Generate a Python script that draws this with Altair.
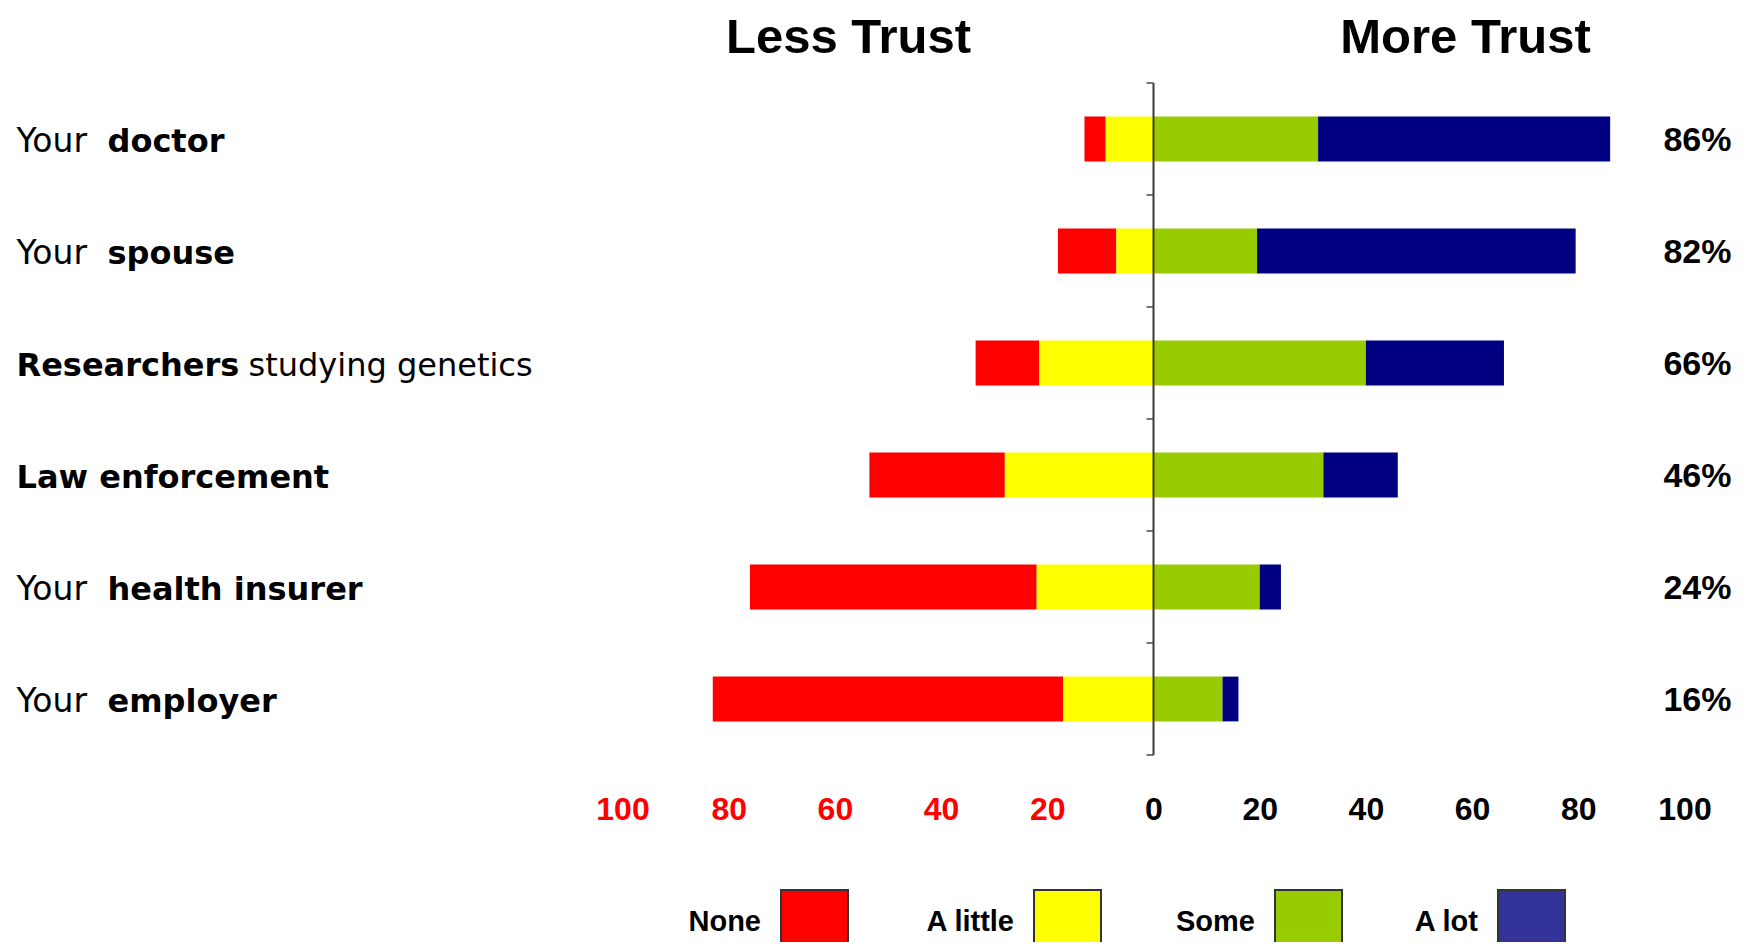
import altair as alt
import pandas as pd

# ---------------- data ----------------
categories = ["Your doctor", "Your spouse", "Researchers studying genetics",
              "Law enforcement", "Your health insurer", "Your employer"]
label_before = ["Your", "Your", "", "", "Your", "Your"]
label_bold = ["doctor", "spouse", "Researchers", "Law enforcement", "health insurer", "employer"]
label_after = ["", "", "studying genetics", "", "", ""]
none_vals = [4, 11, 12, 25.5, 54, 66]
little_vals = [9, 7, 21.5, 28, 22, 17]
some_vals = [31, 19.5, 40, 32, 20, 13]
alot_vals = [55, 60, 26, 14, 4, 3]
more_trust_pct = ["86%", "82%", "66%", "46%", "24%", "16%"]
levels = ["None", "A little", "Some", "A lot"]
bar_colors = ["#FF0000", "#FFFF00", "#99CC00", "#000080"]
legend_colors = ["#FF0000", "#FFFF00", "#99CC00", "#333399"]
x_ticks = [-100, -80, -60, -40, -20, 0, 20, 40, 60, 80, 100]
titles = ["Less Trust", "More Trust"]

# ---------------- tables ----------------
rows = []
for i, cat in enumerate(categories):
    n, l, s, a = none_vals[i], little_vals[i], some_vals[i], alot_vals[i]
    segs = [(-(n + l), -l), (-l, 0), (0, s), (s, s + a)]
    for lev, (x0, x1) in zip(levels, segs):
        rows.append({"category": cat, "level": lev, "x0": x0, "x1": x1,
                     "y0": i + 0.3, "y1": i + 0.7})
bars_df = pd.DataFrame(rows)

labels_df = pd.DataFrame({
    "category": categories,
    "before": label_before,
    "bold": label_bold,
    "after": label_after,
    "pct": more_trust_pct,
    "yc": [i + 0.5 for i in range(len(categories))],
})
bounds_df = pd.DataFrame({"b": list(range(len(categories) + 1))})
zero_df = pd.DataFrame({"v": [0]})

# ---------------- layout constants ----------------
W, H = 1062, 672
PAD = {"left": 614.5, "top": 75, "right": 47.5, "bottom": 187}
LEFT_X = -606
BOLD_AFTER_YOUR = 91
AFTER_BOLD = 232
LABEL_FONT = "DejaVu Sans"
MAIN_FONT = "Liberation Sans"

yscale = alt.Scale(domain=[0, len(categories)], reverse=True, nice=False, zero=False)
xscale = alt.Scale(domain=[-100, 100], nice=False, zero=False)

base = alt.Chart(bars_df)

bars = base.mark_bar().encode(
    x=alt.X("x0:Q", scale=xscale, axis=alt.Axis(
        values=x_ticks, labelExpr="'' + abs(datum.value)",
        labelColor={"expr": "datum.value < 0 ? '#FF0000' : '#000000'"},
        labelFont=MAIN_FONT, labelFontSize=32, labelFontWeight="bold",
        domain=False, ticks=False, grid=False, labelPadding=64,
        labelBaseline="alphabetic", labelFlush=False, labelOverlap=False, title=None)),
    x2="x1:Q",
    y=alt.Y("y0:Q", scale=yscale, axis=None),
    y2="y1:Q",
    color=alt.Color("level:N", scale=alt.Scale(domain=levels, range=bar_colors), legend=None),
)

axis_line = alt.Chart(zero_df).mark_rule(color="#3a3a3a", strokeWidth=2).encode(
    x=alt.X("v:Q", scale=xscale), y=alt.datum(0, scale=yscale), y2=alt.datum(len(categories)))

ticks = alt.Chart(bounds_df).mark_tick(orient="horizontal", size=7, thickness=2,
                                        color="#3a3a3a", xOffset=-3.5).encode(
    x=alt.datum(0), y=alt.Y("b:Q", scale=yscale))

lab = alt.Chart(labels_df)
txt_kw = dict(align="left", baseline="alphabetic", fontSize=32, font=LABEL_FONT,
              color="#000000", dy=13)

with_before = lab.transform_filter("datum.before != ''")
no_before = lab.transform_filter("datum.before == ''")
with_after = lab.transform_filter("datum.after != ''")

t_before = with_before.mark_text(**{**txt_kw, "fontSize": 33}).encode(
    x=alt.value(LEFT_X), y=alt.Y("yc:Q", scale=yscale), text="before:N")
t_bold1 = with_before.mark_text(fontWeight="bold", **txt_kw).encode(
    x=alt.value(LEFT_X + BOLD_AFTER_YOUR), y=alt.Y("yc:Q", scale=yscale), text="bold:N")
t_bold2 = no_before.mark_text(fontWeight="bold", **txt_kw).encode(
    x=alt.value(LEFT_X), y=alt.Y("yc:Q", scale=yscale), text="bold:N")
t_after = with_after.mark_text(**txt_kw).encode(
    x=alt.value(LEFT_X + AFTER_BOLD), y=alt.Y("yc:Q", scale=yscale), text="after:N")

t_pct = lab.mark_text(align="right", baseline="alphabetic", fontSize=34, font=MAIN_FONT,
                      fontWeight="bold", color="#000000", dy=12).encode(
    x=alt.value(1109), y=alt.Y("yc:Q", scale=yscale), text="pct:N")

one = pd.DataFrame({"k": [0]})
title_x = [226, 843]
title_layers = []
for t, tx in zip(titles, title_x):
    title_layers.append(alt.Chart(one).mark_text(
        align="center", baseline="alphabetic", fontSize=49, font=MAIN_FONT,
        fontWeight="bold", color="#000000").encode(
        x=alt.value(tx), y=alt.value(-30), text=alt.value(t)))

# custom legend: label to the left of a swatch
sw_x0 = [158.5, 411.5, 652.5, 875.5]
sw_w = 67
legend_layers = []
for lev, col, sx in zip(levels, legend_colors, sw_x0):
    legend_layers.append(alt.Chart(one).mark_rect(
        fill=col, stroke="#333333", strokeWidth=2).encode(
        x=alt.value(sx), x2=alt.value(sx + sw_w), y=alt.value(807), y2=alt.value(870)))
    legend_layers.append(alt.Chart(one).mark_text(
        align="right", baseline="alphabetic", fontSize=29, font=MAIN_FONT,
        fontWeight="bold", color="#000000").encode(
        x=alt.value(sx - 20), y=alt.value(848), text=alt.value(lev)))

chart = alt.layer(bars, axis_line, ticks, t_before, t_bold1, t_bold2, t_after, t_pct,
                  *title_layers, *legend_layers).properties(
    width=W, height=H,
    autosize=alt.AutoSizeParams(type="none"),
    padding=PAD,
    background="white",
).configure_view(stroke=None)

chart.save("out.html", embed_options={"renderer": "svg", "actions": False})
